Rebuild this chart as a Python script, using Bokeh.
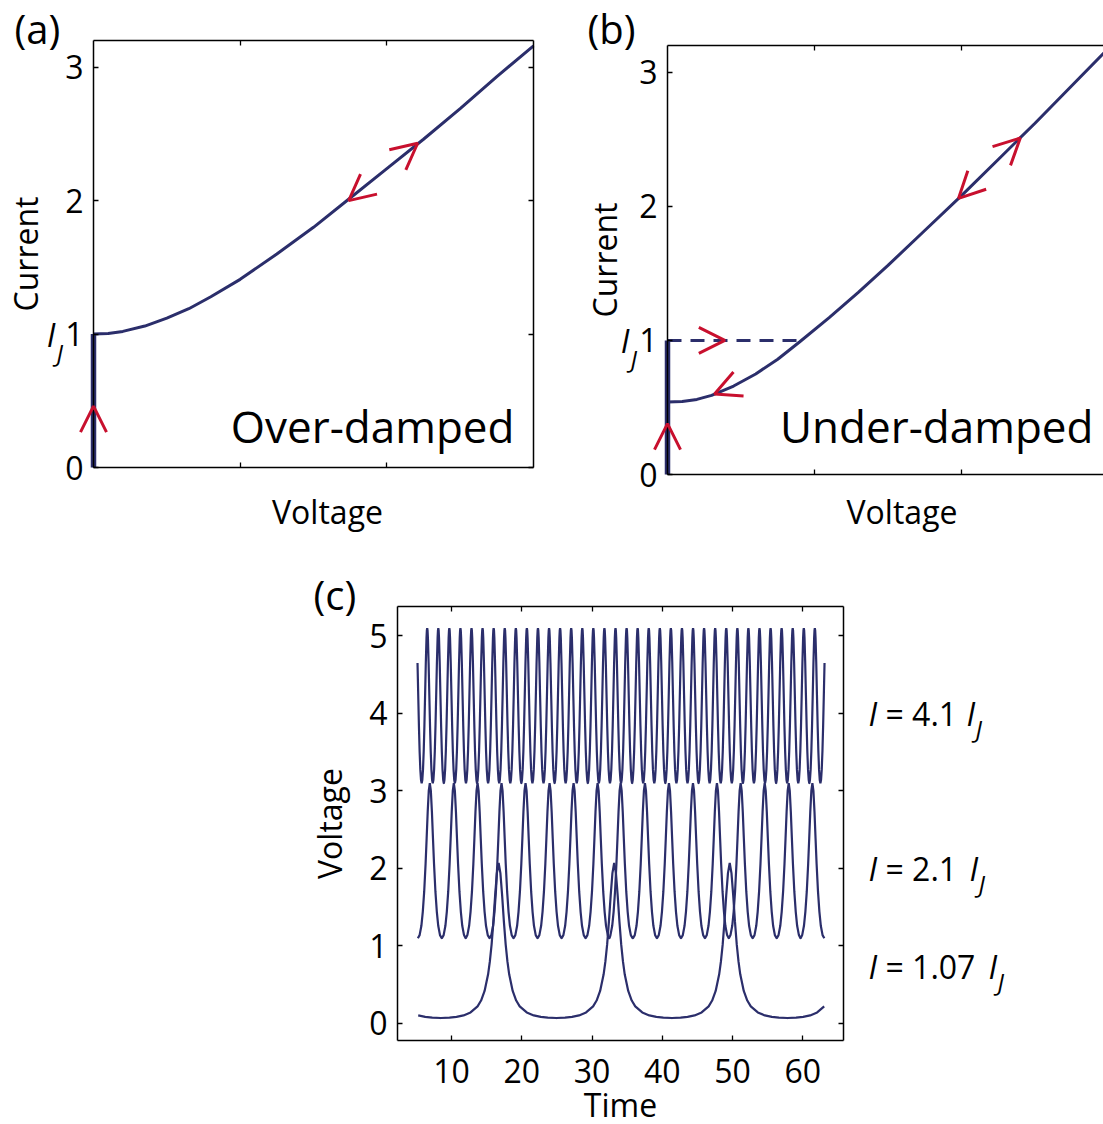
import numpy as np
from bokeh.plotting import figure
from bokeh.models import LinearAxis, Label, Arrow, OpenHead, Range1d, FixedTicker
from bokeh.layouts import row, column
from bokeh.embed import file_html
from bokeh.resources import INLINE

NAVY = "#2b2e6b"
RED = "#c8102e"
FONT = "Open Sans"

# ---------------- data ----------------
# (a) over-damped I-V curve (voltage, current)
a_voltage = [0, 0.1, 0.2, 0.35, 0.5, 0.65, 0.8, 1.0, 1.25, 1.5, 1.75, 2.0, 2.25, 2.5, 2.75, 3.0]
a_current = [1.0, 1.005, 1.02, 1.06, 1.12, 1.19, 1.28, 1.41, 1.60, 1.80, 2.02, 2.24, 2.46,
             2.69, 2.93, 3.16]
a_zero_voltage = [0, 0]
a_zero_current = [0, 1]
a_arrow_tail_v = [0.0, 2.00, 1.95]
a_arrow_tail_i = [0.30, 2.24, 2.19]
a_arrow_tip_v = [0.0, 2.21, 1.74]
a_arrow_tip_i = [0.46, 2.43, 2.00]

# (b) under-damped I-V curve
b_voltage = [0, 0.1, 0.2, 0.3, 0.45, 0.6, 0.75, 0.9, 1.1, 1.3, 1.5, 1.75, 2.0, 2.25, 2.5,
             2.75, 3.0]
b_current = [0.54, 0.545, 0.56, 0.59, 0.66, 0.75, 0.86, 0.99, 1.17, 1.36, 1.56, 1.82, 2.08,
             2.35, 2.62, 2.90, 3.18]
b_zero_voltage = [0, 0]
b_zero_current = [0, 1]
b_switch_voltage = [0, 0.9]
b_switch_current = [1, 1]
b_arrow_tail_v = [0.0, 0.20, 0.45, 2.20, 2.20]
b_arrow_tail_i = [0.20, 1.00, 0.66, 2.30, 2.30]
b_arrow_tip_v = [0.0, 0.39, 0.32, 2.40, 1.98]
b_arrow_tip_i = [0.38, 1.00, 0.60, 2.51, 2.06]

iv_yticks = [0, 1, 2, 3]
iv_xticks = [1, 2]

# (c) voltage vs time; peak times and one half-period profile (offset from peak, voltage)
c_labels = ["4.1", "2.1", "1.07"]
c_peaks_41 = [4.95, 6.53, 8.11, 9.68, 11.26, 12.84, 14.41, 15.99, 17.57, 19.15, 20.72,
              22.30, 23.88, 25.45, 27.03, 28.61, 30.18, 31.76, 33.34, 34.92, 36.49,
              38.07, 39.65, 41.22, 42.80, 44.38, 45.95, 47.53, 49.11, 50.69, 52.26,
              53.84, 55.42, 56.99, 58.57, 60.15, 61.72, 63.30]
c_half_dt_41 = [0, 0.05, 0.1, 0.2, 0.3, 0.4, 0.5, 0.6, 0.7, 0.79]
c_half_v_41 = [5.10, 5.07, 4.975, 4.65, 4.24, 3.84, 3.51, 3.275, 3.14, 3.10]

c_peaks_21 = [6.90, 10.32, 13.70, 17.11, 20.53, 23.95, 27.37, 30.79, 34.07, 37.53,
              40.95, 44.37, 47.78, 51.16, 54.58, 58.00, 61.37]
c_half_dt_21 = [0, 0.15, 0.3, 0.45, 0.6, 0.8, 1.0, 1.2, 1.45, 1.7]
c_half_v_21 = [3.10, 3.00, 2.73, 2.39, 2.06, 1.70, 1.44, 1.26, 1.14, 1.10]

c_peaks_107 = [0.25, 16.70, 33.15, 49.60, 66.05]
c_half_dt_107 = [0, 0.25, 0.5, 0.75, 1.0, 1.25, 1.5, 2.0, 2.5, 3.0, 4.0, 5.0, 6.0, 7.0, 8.25]
c_half_v_107 = [2.07, 1.94, 1.65, 1.31, 1.02, 0.80, 0.634, 0.419, 0.296, 0.221, 0.142,
                0.104, 0.084, 0.074, 0.070]

c_time_start = 5.1
c_time_end = 63.1
c_xticks = [10, 20, 30, 40, 50, 60]
c_yticks = [0, 1, 2, 3, 4, 5]
c_label_v = [4.0, 2.0, 0.74]


def build_trace(peaks, half_dt, half_v, t0, t1):
    dt = [-d for d in half_dt[:0:-1]] + list(half_dt)
    vv = list(half_v[:0:-1]) + list(half_v)
    ts, vs = [], []
    for pk in peaks:
        for d, v in zip(dt, vv):
            t = pk + d
            if t0 <= t <= t1:
                ts.append(t)
                vs.append(v)
    order = np.argsort(ts, kind="stable")
    return [ts[i] for i in order], [vs[i] for i in order]


def make_panel(fig_px, box_px, box_data):
    """fig_px=(left, top, w, h) page px; box_px=(left, right, top, bottom) page px."""
    fl, ft, fw, fh = fig_px
    bl, br, bt, bb = box_px
    (x0, x1), (y0, y1) = box_data
    sx = (br - bl) / (x1 - x0)
    sy = (bb - bt) / (y1 - y0)
    xr = (x0 - (bl - fl) / sx, x0 + (fl + fw - bl) / sx)
    yr = (y1 - (ft + fh - bt) / sy, y1 + (bt - ft) / sy)
    p = figure(width=fw, height=fh, x_range=Range1d(*xr), y_range=Range1d(*yr),
               output_backend="svg", toolbar_location=None, tools="",
               x_axis_location=None, y_axis_location=None,
               min_border_left=0, min_border_right=0, min_border_top=0,
               min_border_bottom=0)
    p.xgrid.visible = False
    p.ygrid.visible = False
    p.outline_line_color = None
    return p, sx


def add_axis(p, side, loc, bounds, ticks, show, label=None, mls=10, als=10, hidden=False):
    ax = LinearAxis(fixed_location=loc, bounds=bounds, ticker=FixedTicker(ticks=ticks))
    ax.axis_line_color = None if hidden else "black"
    ax.axis_line_width = 1.5
    ax.major_tick_in = 5
    ax.major_tick_out = 0
    ax.major_tick_line_color = None if hidden else "black"
    ax.major_tick_line_width = 1.3
    ax.minor_tick_line_color = None
    ax.major_label_text_font = FONT
    ax.major_label_text_color = "black"
    if show:
        ax.major_label_text_font_size = "32px"
        ax.major_label_standoff = mls
    else:
        ax.major_label_overrides = {t: "" for t in ticks}
        ax.major_label_text_font_size = "1px"
        ax.major_label_standoff = 0
    if label:
        ax.axis_label = label
        ax.axis_label_standoff = als
        ax.axis_label_text_font = FONT
        ax.axis_label_text_font_size = "32px"
        ax.axis_label_text_font_style = "normal"
        ax.axis_label_text_color = "black"
    p.add_layout(ax, side)
    return ax


def text(p, x, y, s, dx=0, dy=0, size="32px", style="normal", align="left",
         baseline="alphabetic"):
    p.add_layout(Label(x=x, y=y, x_offset=dx, y_offset=dy, text=s, text_font=FONT,
                       text_font_size=size, text_font_style=style, text_align=align,
                       text_baseline=baseline, text_color="black"))


def chevrons(p, xs0, ys0, xs1, ys1):
    for x0, y0, x1, y1 in zip(xs0, ys0, xs1, ys1):
        p.add_layout(Arrow(end=OpenHead(size=26, line_color=RED, line_width=3),
                           x_start=x0, y_start=y0, x_end=x1, y_end=y1,
                           line_color=None))


def boxed(p, xb, yb, xt, yt, show_x, ylabel, ymls=10, yals=10, xlabel=None, xmls=10, xals=10):
    add_axis(p, "below", yb[0], xb, xt, show_x, xlabel, xmls, xals)
    add_axis(p, "above", yb[1], xb, xt, False)
    add_axis(p, "left", xb[0], yb, yt, True, ylabel, ymls, yals)
    add_axis(p, "right", xb[1], yb, yt, False)


# ---------------- panel (a) ----------------
a_xb = (0, 3.0)
a_yb = (0, 3.2)
pa, a_sx = make_panel((0, 0, 560, 548), (93, 533, 40, 467), (a_xb, a_yb))
boxed(pa, a_xb, a_yb, iv_xticks, iv_yticks, False, "Current", yals=15)
# x title sits ~14 px right of the box centre, as in the original figure
add_axis(pa, "below", a_yb[0], (a_xb[0] + 14 / a_sx, a_xb[1] + 14 / a_sx), [], False,
         "Voltage", als=22, hidden=True)
pa.line(a_voltage, a_current, line_color=NAVY, line_width=3)
pa.line(a_zero_voltage, a_zero_current, line_color=NAVY, line_width=5.5)
chevrons(pa, a_arrow_tail_v, a_arrow_tail_i, a_arrow_tip_v, a_arrow_tip_i)
text(pa, a_xb[0], a_yb[1], "(a)", dx=-79, dy=12, size="40px")
text(pa, 0, 1, "I", dx=-38, size="32px", style="italic", align="right", baseline="middle")
text(pa, 0, 1, "J", dx=-37, dy=-18, size="24px", style="italic", align="left", baseline="middle")
text(pa, a_xb[1], 0, "Over-damped", dx=-19, dy=42, size="44px", align="right")

# ---------------- panel (b) ----------------
b_xb = (0, 3.0)
b_yb = (0, 3.2)
pb, b_sx = make_panel((560, 0, 543, 548), (667, 1108, 45, 474), (b_xb, b_yb))
boxed(pb, b_xb, b_yb, iv_xticks, iv_yticks, False, "Current", yals=10)
# title centre lies ~14 px right of the (partly cropped) box centre
add_axis(pb, "below", b_yb[0], (b_xb[0] + 33 / b_sx, b_xb[1] + 33 / b_sx), [], False,
         "Voltage", als=15, hidden=True)
pb.line(b_voltage, b_current, line_color=NAVY, line_width=3)
pb.line(b_zero_voltage, b_zero_current, line_color=NAVY, line_width=5.5)
pb.line(b_switch_voltage, b_switch_current, line_color=NAVY, line_width=3, line_dash="14 9")
chevrons(pb, b_arrow_tail_v, b_arrow_tail_i, b_arrow_tip_v, b_arrow_tip_i)
text(pb, b_xb[0], b_yb[1], "(b)", dx=-80, dy=17, size="40px")
text(pb, 0, 1, "I", dx=-38, size="32px", style="italic", align="right", baseline="middle")
text(pb, 0, 1, "J", dx=-37, dy=-18, size="24px", style="italic", align="left", baseline="middle")
text(pb, b_xb[1], 0, "Under-damped", dx=-15, dy=49, size="44px", align="right")

# ---------------- panel (c) ----------------
c_xb = (2.3, 65.8)
c_yb = (-0.22, 5.38)
pc, c_sx = make_panel((0, 548, 1103, 576), (397, 843, 606, 1040), (c_xb, c_yb))
boxed(pc, c_xb, c_yb, c_xticks, c_yticks, True, "Voltage", yals=15,
      xlabel="Time", xmls=18, xals=-3)

for peaks, hdt, hv in [(c_peaks_41, c_half_dt_41, c_half_v_41),
                       (c_peaks_21, c_half_dt_21, c_half_v_21),
                       (c_peaks_107, c_half_dt_107, c_half_v_107)]:
    t, v = build_trace(peaks, hdt, hv, c_time_start, c_time_end)
    pc.line(t, v, line_color=NAVY, line_width=2.2)

text(pc, c_xb[0], c_yb[1], "(c)", dx=-84, dy=12, size="40px")
second_i_dx = [123, 126, 145]
for lab, vy, idx in zip(c_labels, c_label_v, second_i_dx):
    text(pc, c_xb[1], vy, "I", dx=25, style="italic", baseline="middle")
    text(pc, c_xb[1], vy, "= " + lab, dx=42, baseline="middle")
    text(pc, c_xb[1], vy, "I", dx=idx, style="italic", baseline="middle")
    text(pc, c_xb[1], vy, "J", dx=idx + 9, dy=-15, size="24px", style="italic",
         baseline="middle")

layout = column(row(pa, pb), pc)
open("out.html", "w").write(file_html(layout, INLINE))
